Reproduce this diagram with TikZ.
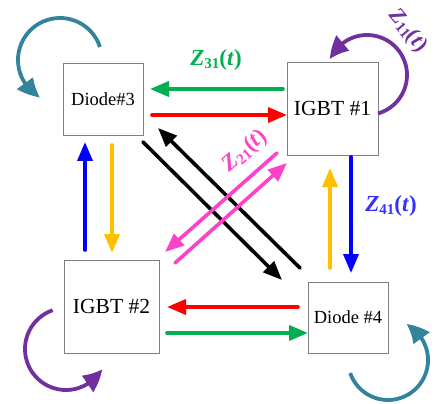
\documentclass[tikz,border=0pt]{standalone}
\usepackage{fontspec}
\setmainfont{Liberation Serif}
\usetikzlibrary{arrows.meta,bending}
\definecolor{cgreen}{HTML}{00B050}
\definecolor{cred}{HTML}{FF0000}
\definecolor{cblue}{HTML}{0000FF}
\definecolor{clblue}{HTML}{3333FF}
\definecolor{corange}{HTML}{FFC000}
\definecolor{cpink}{HTML}{FF40C8}
\definecolor{cpurple}{HTML}{7030A0}
\definecolor{cteal}{HTML}{31849B}
\newcommand{\zlab}[1]{\textbf{\textit{Z}\raisebox{-0.3ex}{\fontsize{15}{15}\selectfont #1}(\textit{t})}}
\begin{document}
\begin{tikzpicture}[x=1pt,y=1pt,
  box/.style={draw=gray,line width=0.9pt,inner sep=0pt,text=black},
  conn/.style={line width=3.6pt,line cap=round,-{Triangle[length=19pt,width=15pt]}},
  loopa/.style={line width=3.8pt,-{Triangle[length=21pt,width=19pt,bend]}},
  zl/.style={font=\fontsize{23}{23}\selectfont,inner sep=0pt}]
\useasboundingbox (0,0) rectangle (435,-403);
% boxes
\node[box,minimum width=80pt,minimum height=72pt,font=\fontsize{18.5}{20}\selectfont] (d3) at (103,-99) {Diode\#3};
\node[box,minimum width=91pt,minimum height=93pt,font=\fontsize{21.5}{23}\selectfont] (i1) at (332.5,-108.5) {IGBT \#1};
\node[box,minimum width=95pt,minimum height=93pt,font=\fontsize{21.5}{23}\selectfont] (i2) at (111.5,-306.5) {IGBT \#2};
\node[box,minimum width=80pt,minimum height=71pt,font=\fontsize{18.5}{20}\selectfont] (d4) at (348,-317.5) {Diode \#4};
% endpoints
\coordinate (g1s) at (283,-89);   \coordinate (g1e) at (150,-89);
\coordinate (r1s) at (152,-115);  \coordinate (r1e) at (287,-115);
\coordinate (b1s) at (85,-250);   \coordinate (b1e) at (85,-142);
\coordinate (o1s) at (112,-145);  \coordinate (o1e) at (112,-253);
\coordinate (b2s) at (351,-157);  \coordinate (b2e) at (351,-273);
\coordinate (o2s) at (330,-268);  \coordinate (o2e) at (330,-168);
\coordinate (r2s) at (298,-307);  \coordinate (r2e) at (167,-307);
\coordinate (g2s) at (167,-333);  \coordinate (g2e) at (308,-333);
\coordinate (k1s) at (143,-142);  \coordinate (k1e) at (282,-280);
\coordinate (k2s) at (300,-268);  \coordinate (k2e) at (158,-128);
\coordinate (p1s) at (175,-263);  \coordinate (p1e) at (287,-163);
\coordinate (p2s) at (277,-153);  \coordinate (p2e) at (165,-252);
% connectors
\draw[conn,cgreen] (g1s) -- (g1e);
\draw[conn,cred] (r1s) -- (r1e);
\draw[conn,cblue] (b1s) -- (b1e);
\draw[conn,corange] (o1s) -- (o1e);
\draw[conn,cblue] (b2s) -- (b2e);
\draw[conn,corange] (o2s) -- (o2e);
\draw[conn,cred] (r2s) -- (r2e);
\draw[conn,cgreen] (g2s) -- (g2e);
\draw[conn,black] (k1s) -- (k1e);
\draw[conn,black] (k2s) -- (k2e);
\draw[conn,cpink] (p1s) -- (p1e);
\draw[conn,cpink] (p2s) -- (p2e);
% self loops
\draw[loopa,cteal] ([shift={(18:42)}]60,-60) arc[start angle=18,end angle=242,radius=42];
\draw[loopa,cpurple] ([shift={(-74:40)}]367,-75) arc[start angle=-74,end angle=157,radius=40];
\draw[loopa,cpurple] ([shift={(109:41)}]66,-349) arc[start angle=109,end angle=331,radius=41];
\draw[loopa,cteal] ([shift={(199:40)}]388,-360) arc[start angle=199,end angle=423,radius=40];
% labels
\node[zl,text=cgreen] (z31) at (216,-60) {\zlab{31}};
\node[zl,text=clblue] (z41) at (391,-206) {\zlab{41}};
\node[zl,text=cpink,rotate=41] (z21) at (245,-151) {\zlab{21}};
\node[zl,text=cpurple,rotate=-50,font=\fontsize{22}{22}\selectfont] (z11) at (408,-31) {\zlab{11}};
\end{tikzpicture}
\end{document}
